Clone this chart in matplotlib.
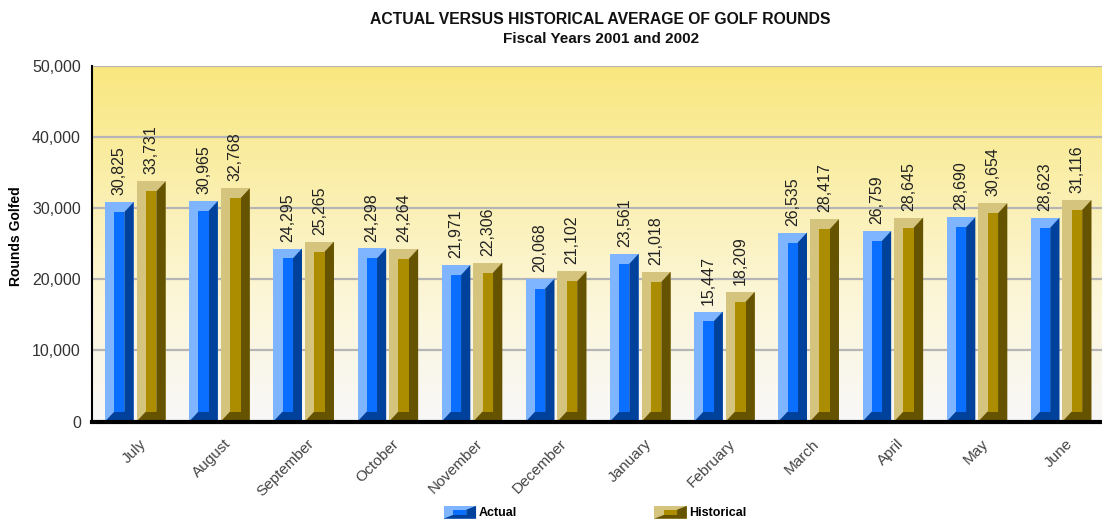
import numpy as np
import matplotlib
matplotlib.use("Agg")
import matplotlib.pyplot as plt
import matplotlib.colors as mcolors
from matplotlib.patches import Polygon, Rectangle
from matplotlib.legend_handler import HandlerBase
from matplotlib.ticker import FuncFormatter

plt.rcParams['font.family'] = ['Liberation Sans', 'DejaVu Sans']

# Dades
months = ['July', 'August', 'September', 'October', 'November', 'December',
          'January', 'February', 'March', 'April', 'May', 'June']
actual = [30825, 30965, 24295, 24298, 21971, 20068, 23561, 15447, 26535, 26759, 28690, 28623]
historical = [33731, 32768, 25265, 24264, 22306, 21102, 21018, 18209, 28417, 28645, 30654, 31116]

# colors: cara clara, cara interior, bisell fosc
COL_ACTUAL = ('#7fb5ff', '#0a6eff', '#00419c')
COL_HIST = ('#d5c47e', '#ad8d00', '#665300')

BEVEL_X = 0.11      # unitats de categoria
BEVEL_Y = 1400      # unitats de dades


def draw_bevel_bars(ax, xs, vals, x0, width, cols):
    light, mid, dark = cols
    bars = ax.bar(np.asarray(xs) + x0, vals, width=width, align='edge',
                  color=light, linewidth=0, zorder=3)
    for b in bars:
        l, r = b.get_x(), b.get_x() + b.get_width()
        h = b.get_height()
        dark_poly = Polygon([(l, 0), (r, 0), (r, h), (r - BEVEL_X, h - BEVEL_Y),
                             (r - BEVEL_X, BEVEL_Y), (l + BEVEL_X, BEVEL_Y)],
                            closed=True, facecolor=dark, edgecolor='none', zorder=4)
        ax.add_patch(dark_poly)
        ax.add_patch(Rectangle((l + BEVEL_X, BEVEL_Y), r - l - 2 * BEVEL_X, h - 2 * BEVEL_Y,
                               facecolor=mid, edgecolor='none', zorder=5))
    return bars


class BevelHandler(HandlerBase):
    def __init__(self, cols):
        super().__init__()
        self.cols = cols

    def create_artists(self, legend, orig_handle, xdescent, ydescent, width, height,
                       fontsize, trans):
        light, mid, dark = self.cols
        x0, y0 = -xdescent, -ydescent
        dx, dy = width * 0.3, height * 0.3
        base = Rectangle((x0, y0), width, height, facecolor=light, edgecolor='none',
                         transform=trans)
        darkp = Polygon([(x0, y0), (x0 + width, y0), (x0 + width, y0 + height),
                         (x0 + width - dx, y0 + height - dy), (x0 + width - dx, y0 + dy),
                         (x0 + dx, y0 + dy)], closed=True, facecolor=dark,
                        edgecolor='none', transform=trans)
        inner = Rectangle((x0 + dx, y0 + dy), width - 2 * dx, height - 2 * dy,
                          facecolor=mid, edgecolor='none', transform=trans)
        return [base, darkp, inner]


fig = plt.figure(figsize=(11.02, 5.21), dpi=100)
ax = fig.add_axes([92 / 1102, 1 - 421.5 / 521, 1 - 92 / 1102, 356 / 521])

x = np.arange(len(months))
ax.set_xlim(-0.5, len(months) - 0.5)
ax.set_ylim(0, 50000)

# fons degradat groc -> blanc
grad = mcolors.LinearSegmentedColormap.from_list(
    'fons', [(0.0, '#f8f8f8'), (0.35, '#fcf6d8'), (0.7, '#faeea8'), (1.0, '#f9e77f')])
ax.imshow(np.linspace(0, 1, 256).reshape(-1, 1), cmap=grad, origin='lower', aspect='auto',
          extent=[-0.5, len(months) - 0.5, 0, 50000], zorder=0, interpolation='bilinear')

ax.set_yticks(np.arange(0, 50001, 10000))
ax.yaxis.set_major_formatter(FuncFormatter(lambda v, p: f'{int(v):,}'))
ax.grid(axis='y', color='#b5b5b5', linewidth=1.6, zorder=1)
ax.set_axisbelow(True)
ax.tick_params(axis='y', length=0, pad=8, labelsize=11.5, labelcolor='#333333')
ax.tick_params(axis='x', length=0)
ax.set_xticks(x)
ax.set_xticklabels([])

for s in ['top', 'right']:
    ax.spines[s].set_visible(False)
ax.spines['left'].set_linewidth(1.5)
ax.spines['bottom'].set_linewidth(3)
ax.spines['bottom'].set_zorder(6)

b1 = draw_bevel_bars(ax, x, actual, -0.345, 0.34, COL_ACTUAL)
b2 = draw_bevel_bars(ax, x, historical, 0.03, 0.345, COL_HIST)

for bars, vals in ((b1, actual), (b2, historical)):
    for b, v in zip(bars, vals):
        ax.annotate(f'{v:,}', (b.get_x() + b.get_width() / 2, v), xytext=(0, 5),
                    textcoords='offset points', rotation=90, ha='center', va='bottom',
                    fontsize=11.5, color='#222222', zorder=7)

# etiquetes de mes inclinades
for i, m in enumerate(months):
    ax.annotate(m, (i + 0.06, 0), xytext=(0, -11), textcoords='offset points',
                rotation=45, ha='right', va='top', rotation_mode='anchor',
                fontsize=11, color='#444444', annotation_clip=False)

ax.set_ylabel('Rounds Golfed', fontsize=10, fontweight='bold')
ax.yaxis.set_label_coords(-0.068, 0.52)

fig.text(0.545, 0.963, 'ACTUAL VERSUS HISTORICAL AVERAGE OF GOLF ROUNDS',
         ha='center', va='center', fontsize=11.3, fontweight='bold', color='#111111')
fig.text(0.545, 0.925, 'Fiscal Years 2001 and 2002',
         ha='center', va='center', fontsize=11, fontweight='bold', color='#111111')

h_a = Rectangle((0, 0), 1, 1, color=COL_ACTUAL[0])
h_h = Rectangle((0, 0), 1, 1, color=COL_HIST[0])
fig.legend([h_a, h_h], ['Actual', 'Historical'], loc='center',
           bbox_to_anchor=(0.54, 0.016), ncol=2, frameon=False,
           handler_map={h_a: BevelHandler(COL_ACTUAL), h_h: BevelHandler(COL_HIST)},
           prop={'size': 9, 'weight': 'bold'}, handlelength=2.6, handleheight=1.2,
           handletextpad=0.2, columnspacing=11)

fig.savefig('out.png', dpi=100)
